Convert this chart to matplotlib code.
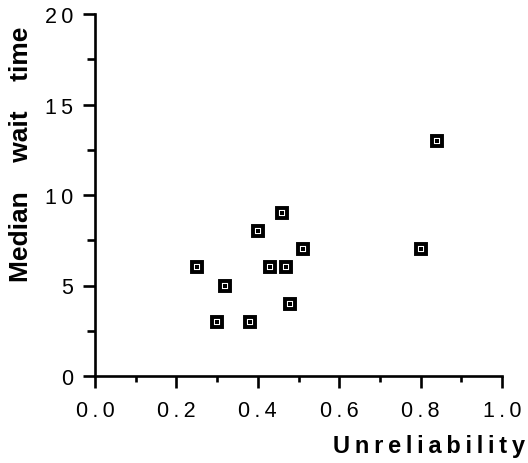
import matplotlib
matplotlib.use("Agg")
import matplotlib.pyplot as plt
from matplotlib.ticker import MultipleLocator

plt.rcParams['font.family'] = ['Liberation Sans', 'DejaVu Sans']

# Data: unreliability vs. median wait time
unreliability = [0.25, 0.30, 0.32, 0.38, 0.40, 0.43, 0.46, 0.47, 0.48, 0.51, 0.80, 0.84]
median_wait = [6, 3, 5, 3, 8, 6, 9, 6, 4, 7, 7, 13]

x_ticks = [0.0, 0.2, 0.4, 0.6, 0.8, 1.0]
y_ticks = [0, 5, 10, 15, 20]
x_label = "Unreliability"
y_label = "Median wait time"

THIN = '\u2009'


def spaced(text, gap=THIN, word_gap='   '):
    # letter-spaced text, words separated by a wider gap
    return word_gap.join(gap.join(w) for w in text.split(' '))


fig = plt.figure(figsize=(5.28, 4.64), dpi=100)
ax = fig.add_axes([95 / 528, 1 - 377 / 464, 407 / 528, 362 / 464])

# Square markers: black frame, white inside, small black centre
ax.plot(unreliability, median_wait, linestyle='none', marker='s',
        markersize=7.5, markerfacecolor='white', markeredgecolor='black',
        markeredgewidth=2.8, clip_on=False, zorder=3)
ax.plot(unreliability, median_wait, linestyle='none', marker='s',
        markersize=2.4, markerfacecolor='black', markeredgewidth=0,
        clip_on=False, zorder=4)

ax.set_xlim(0, 1.0)
ax.set_ylim(0, 20)

ax.set_xticks(x_ticks)
ax.set_xticklabels([spaced(f"{v:.1f}") for v in x_ticks])
ax.set_yticks(y_ticks)
ax.set_yticklabels([spaced(str(v)) for v in y_ticks])
ax.xaxis.set_minor_locator(MultipleLocator(0.1))
ax.yaxis.set_minor_locator(MultipleLocator(2.5))

for side in ('top', 'right'):
    ax.spines[side].set_visible(False)
for side in ('left', 'bottom'):
    ax.spines[side].set_linewidth(1.9)

ax.tick_params(which='major', direction='out', width=1.9, length=8.5,
               labelsize=15.5, colors='black')
ax.tick_params(axis='x', which='major', pad=9)
ax.tick_params(axis='y', which='major', pad=7)
ax.tick_params(axis='x', which='minor', direction='out', width=1.9, length=4.5)
ax.tick_params(axis='y', which='minor', direction='out', width=1.9, length=6)

fig.text(525 / 528, 1 - 453 / 464, spaced(x_label), ha='right', va='baseline',
         fontsize=17, fontweight='bold')
fig.text(21 / 528, 1 - 154 / 464, spaced(y_label, gap='', word_gap='    '),
         ha='center', va='center', rotation=90, fontsize=19, fontweight='bold')

fig.savefig('out.png', dpi=100)
